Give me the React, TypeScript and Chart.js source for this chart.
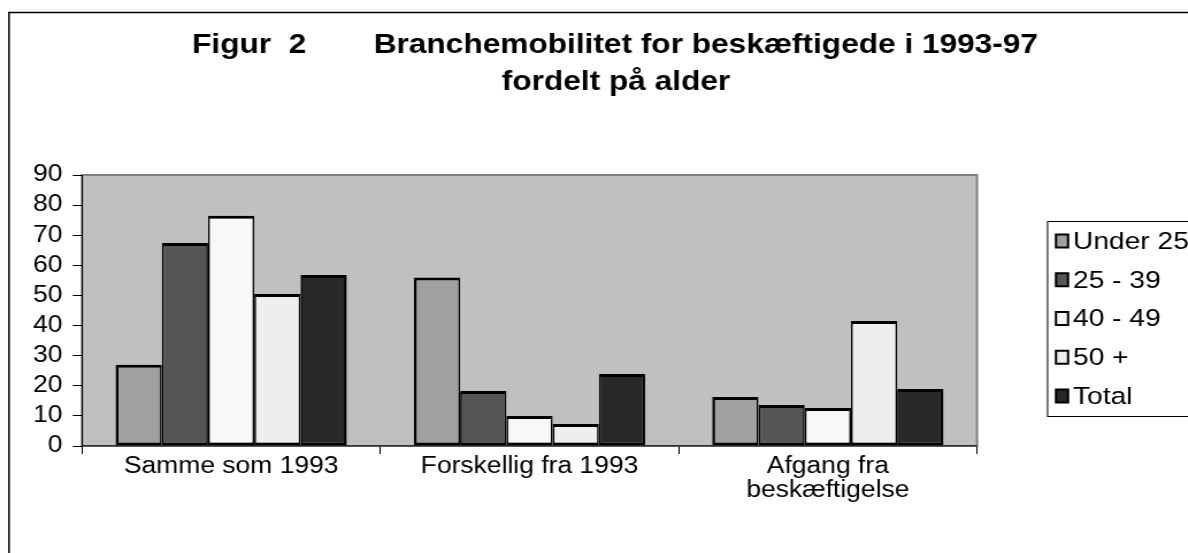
import React, { useEffect, useRef } from "react";
import { Chart, registerables } from "chart.js";

Chart.register(...registerables);

// ---- data ----
const categories: (string | string[])[] = [
  "Samme som 1993",
  "Forskellig fra 1993",
  ["Afgang fra", "beskæftigelse"],
];
const seriesNames = ["Under 25", "25 - 39", "40 - 49", "50 +", "Total"];
const under25 = [27, 56, 16.3];
const age25to39 = [67.4, 18.3, 13.6];
const age40to49 = [76.5, 10, 12.6];
const age50plus = [50.5, 7.3, 41.5];
const totalAll = [56.8, 23.9, 18.9];
const yMin = 0;
const yMax = 90;
const yStep = 10;
const titleFirstA = "Figur  2";
const titleFirstB = "Branchemobilitet for beskæftigede i 1993-97";
const titleSecond = "fordelt på alder";

// ---- styles ----
const seriesColors = ["#a0a0a0", "#565656", "#f8f8f8", "#eeeeee", "#282828"];
const FONT = "'Liberation Sans', Arial, Helvetica, sans-serif";
const SX = 1.15; // horizontal stretch of the original picture
const W = Math.ceil(1188 / SX) + 4;
const H = 553;
const ux = (x: number) => x / SX; // picture x -> canvas x

export default function App() {
  const ref = useRef<HTMLCanvasElement | null>(null);

  useEffect(() => {
    if (!ref.current) return;
    const seriesData = [under25, age25to39, age40to49, age50plus, totalAll];
    const n = seriesData.length;

    const backgroundPlugin = {
      id: "bgFrame",
      beforeDraw(chart: any) {
        const { ctx, chartArea } = chart;
        ctx.save();
        ctx.fillStyle = "#ffffff";
        ctx.fillRect(0, 0, chart.width, chart.height);
        ctx.strokeStyle = "#000";
        ctx.lineWidth = 1.5;
        ctx.beginPath();
        ctx.moveTo(ux(9), chart.height + 5);
        ctx.lineTo(ux(9), 12.5);
        ctx.lineTo(chart.width + 5, 12.5);
        ctx.stroke();
        ctx.fillStyle = "#c0c0c0";
        ctx.fillRect(chartArea.left, chartArea.top, chartArea.right - chartArea.left, chartArea.bottom - chartArea.top);
        ctx.strokeStyle = "#808080";
        ctx.lineWidth = 2;
        ctx.strokeRect(chartArea.left, chartArea.top, chartArea.right - chartArea.left, chartArea.bottom - chartArea.top);
        ctx.restore();
      },
    };

    const titleLegendPlugin = {
      id: "titleLegend",
      afterDraw(chart: any) {
        const { ctx } = chart;
        ctx.save();
        ctx.fillStyle = "#000";
        ctx.font = `bold 27.5px ${FONT}`;
        ctx.textBaseline = "middle";
        ctx.textAlign = "left";
        ctx.fillText(titleFirstA, ux(192), 45);
        ctx.textAlign = "right";
        ctx.fillText(titleFirstB, ux(1038), 45);
        ctx.textAlign = "center";
        ctx.fillText(titleSecond, ux(616), 82);
        // legend
        ctx.strokeStyle = "#000";
        ctx.lineWidth = 1;
        ctx.strokeRect(ux(1047) + 0.5, 221.5, 300, 195);
        ctx.font = `24.5px ${FONT}`;
        ctx.textAlign = "left";
        chart.data.datasets.forEach((ds: any, i: number) => {
          const cy = 241 + i * 38.75;
          const sx = ux(1056);
          ctx.fillStyle = ds.backgroundColor;
          ctx.fillRect(sx, cy - 6.5, 10.5, 13);
          ctx.strokeStyle = "#000";
          ctx.lineWidth = 2;
          ctx.strokeRect(sx, cy - 6.5, 10.5, 13);
          ctx.fillStyle = "#000";
          ctx.fillText(ds.label, ux(1073), cy + 1);
        });
        ctx.restore();
      },
    };

    const plotLeft = ux(82);
    const plotRight = ux(977);

    const chart = new Chart(ref.current, {
      type: "bar",
      data: {
        labels: categories as any,
        datasets: seriesNames.map((name, i) => ({
          label: name,
          data: seriesData[i],
          backgroundColor: seriesColors[i],
          borderColor: "#000",
          borderWidth: {
            top: 3,
            bottom: 3,
            left: i === 0 ? 2.5 : 1.6,
            right: i === n - 1 ? 2.5 : 1.6,
          },
          borderSkipped: false,
          barPercentage: 1,
          categoryPercentage: 0.775,
        })),
      },
      options: {
        responsive: false,
        animation: false,
        devicePixelRatio: 1,
        layout: { padding: { left: 0, right: W - plotRight, top: 175, bottom: 0 } },
        plugins: {
          legend: { display: false },
          title: { display: false },
          tooltip: { enabled: false },
        },
        scales: {
          x: {
            grid: { offset: true, drawOnChartArea: false, drawTicks: true, tickLength: 8, color: "#000", lineWidth: 1 },
            border: { display: true, color: "#333", width: 1.5 },
            ticks: {
              color: "#000",
              font: { family: FONT, size: 23, lineHeight: 1.06 },
              padding: 0,
              maxRotation: 0,
              minRotation: 0,
              autoSkip: false,
            },
            afterFit: (s: any) => {
              s.height = 107;
            },
          },
          y: {
            min: yMin,
            max: yMax,
            grid: { drawOnChartArea: false, drawTicks: true, tickLength: 8, color: "#000", lineWidth: 1 },
            border: { display: true, color: "#000", width: 1 },
            ticks: {
              stepSize: yStep,
              autoSkip: false,
              color: "#000",
              font: { family: FONT, size: 23, lineHeight: 1 },
              padding: 9,
            },
            afterFit: (s: any) => {
              s.width = plotLeft;
            },
          },
        },
      },
      plugins: [backgroundPlugin, titleLegendPlugin],
    } as any);

    return () => chart.destroy();
  }, []);

  return (
    <div
      style={{
        position: "fixed",
        left: 0,
        top: 0,
        width: 1188,
        height: 553,
        overflow: "hidden",
        background: "#fff",
      }}
    >
      <div style={{ width: W, height: H, transform: `scaleX(${SX})`, transformOrigin: "0 0" }}>
        <canvas ref={ref} width={W} height={H} style={{ display: "block" }} />
      </div>
    </div>
  );
}
